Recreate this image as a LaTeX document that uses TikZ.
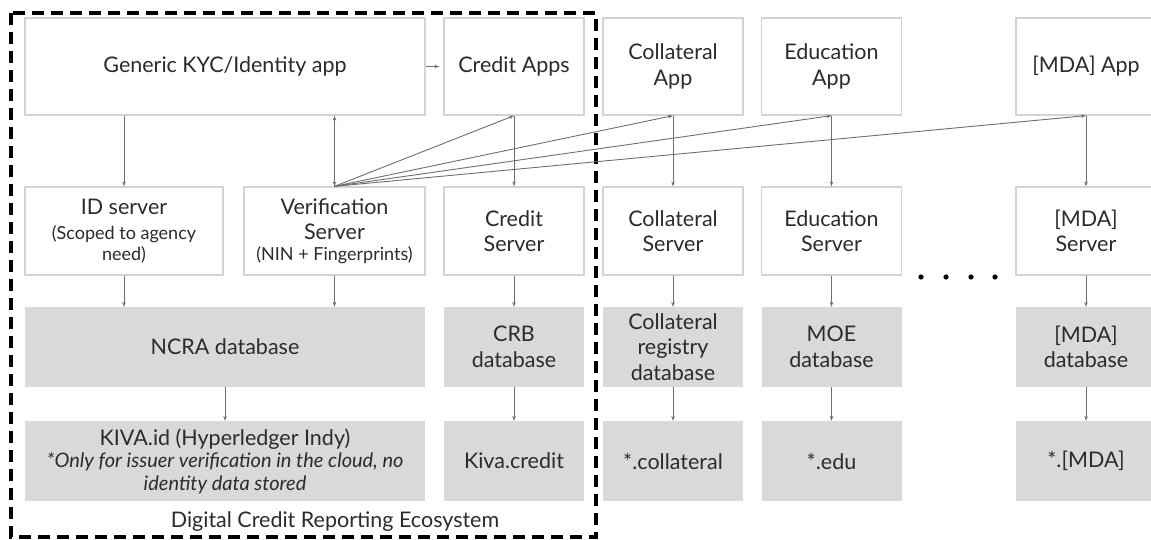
\documentclass[tikz,border=0pt]{standalone}
\usepackage{fontspec}
\setmainfont{Lato}
\usetikzlibrary{arrows.meta}
\definecolor{boxline}{HTML}{D3D3D3}
\definecolor{dbfill}{HTML}{D9D9D9}
\definecolor{txtgray}{HTML}{2B2B2B}
\definecolor{conngray}{HTML}{6E6E6E}
\newcommand{\subnote}[1]{{\fontsize{18}{21}\selectfont #1}}
\newcommand{\kivanote}[1]{{\itshape\fontsize{20}{23}\selectfont #1}}
\tikzstyle{appbox} = [rectangle, draw=boxline, line width=1.3pt, fill=white, inner sep=0pt,
                      align=center, text=txtgray, font=\fontsize{21.5}{25.5}\selectfont]
\tikzstyle{dbbox} = [rectangle, fill=dbfill, inner sep=0pt,
                     align=center, text=txtgray, font=\fontsize{21.5}{25.5}\selectfont]
\tikzstyle{toprow} = [minimum height=97pt]
\tikzstyle{srvrow} = [minimum height=88pt]
\tikzstyle{lowrow} = [minimum height=80pt]
\tikzstyle{narrow} = [minimum width=140pt]
\tikzstyle{arrow} = [conngray, line width=0.9pt, -{Stealth[length=5pt,width=3.5pt]}]

\begin{document}
\begin{tikzpicture}[x=1pt, y=-1pt]
  \useasboundingbox (0,0) rectangle (1151,539);

  % apps
  \node (kyc) [appbox, toprow, minimum width=400pt] at (225,66.5) {Generic KYC/Identity app};
  \node (creditapp) [appbox, toprow, narrow] at (514,66.5) {Credit Apps};
  \node (collapp) [appbox, toprow, narrow] at (673,66.5) {Collateral\\App};
  \node (eduapp) [appbox, toprow, narrow] at (831.5,66.5) {Education\\App};
  \node (mdaapp) [appbox, toprow, narrow] at (1086,66.5) {[MDA] App};

  % servers
  \node (idsrv) [appbox, srvrow, minimum width=198pt] at (124,231) {ID server\\\subnote{(Scoped to agency}\\[-5pt]\subnote{need)}};
  \node (versrv) [appbox, srvrow, minimum width=181pt] at (334.5,231) {Verification\\Server\\[-5pt]\subnote{(NIN + Fingerprints)}};
  \node (creditsrv) [appbox, srvrow, narrow] at (514,231) {Credit\\Server};
  \node (collsrv) [appbox, srvrow, narrow] at (673,231) {Collateral\\Server};
  \node (edusrv) [appbox, srvrow, narrow] at (831.5,231) {Education\\Server};
  \node (mdasrv) [appbox, srvrow, narrow] at (1086,231) {[MDA]\\Server};

  % databases
  \node (ncradb) [dbbox, lowrow, minimum width=400pt] at (225,347) {NCRA database};
  \node (crbdb) [dbbox, lowrow, narrow] at (514,347) {CRB\\database};
  \node (colldb) [dbbox, lowrow, narrow] at (673,347) {Collateral\\registry\\database};
  \node (moedb) [dbbox, lowrow, narrow] at (831.5,347) {MOE\\database};
  \node (mdadb) [dbbox, lowrow, narrow] at (1086,347) {[MDA]\\database};

  % ledgers
  \node (kivaid) [dbbox, lowrow, minimum width=400pt] at (225,461)
    {KIVA.id (Hyperledger Indy)\\[-3pt]\kivanote{*Only for issuer verification in the cloud, no}\\[-3pt]\kivanote{identity data stored}};
  \node (kivacredit) [dbbox, lowrow, narrow] at (514,461) {Kiva.credit};
  \node (colldom) [dbbox, lowrow, narrow] at (673,461) {*.collateral};
  \node (edudom) [dbbox, lowrow, narrow] at (831.5,461) {*.edu};
  \node (mdadom) [dbbox, lowrow, narrow] at (1086,461) {*.[MDA]};

  % ecosystem frame
  \draw [line width=3.5pt, dash pattern=on 12pt off 7pt] (11,13) rectangle (596,537);
  \node (caption) [text=txtgray, font=\fontsize{21.5}{25.5}\selectfont] at (335,522) {Digital Credit Reporting Ecosystem};

  \foreach \dx in {921,946,971,995}
    \fill (\dx,277) circle (2.6pt);

  \draw [arrow, shorten >=4pt] (kyc) -- (creditapp);
  \draw [arrow] (idsrv.north |- kyc.south) -- (idsrv.north);
  \draw [arrow, {Stealth[length=5pt,width=3.5pt]}-{Stealth[length=5pt,width=3.5pt]}] (versrv.north) -- (versrv.north |- kyc.south);
  \foreach \target in {creditapp, collapp, eduapp, mdaapp}
    \draw [arrow] (versrv.north) -- (\target.south);
  \foreach \upper/\lower in {creditapp/creditsrv, collapp/collsrv, eduapp/edusrv, mdaapp/mdasrv,
                             creditsrv/crbdb, collsrv/colldb, edusrv/moedb, mdasrv/mdadb,
                             crbdb/kivacredit, colldb/colldom, moedb/edudom, mdadb/mdadom, ncradb/kivaid}
    \draw [arrow] (\upper) -- (\lower);
  \draw [arrow] (idsrv) -- (idsrv |- ncradb.north);
  \draw [arrow] (versrv) -- (versrv |- ncradb.north);
\end{tikzpicture}
\end{document}
